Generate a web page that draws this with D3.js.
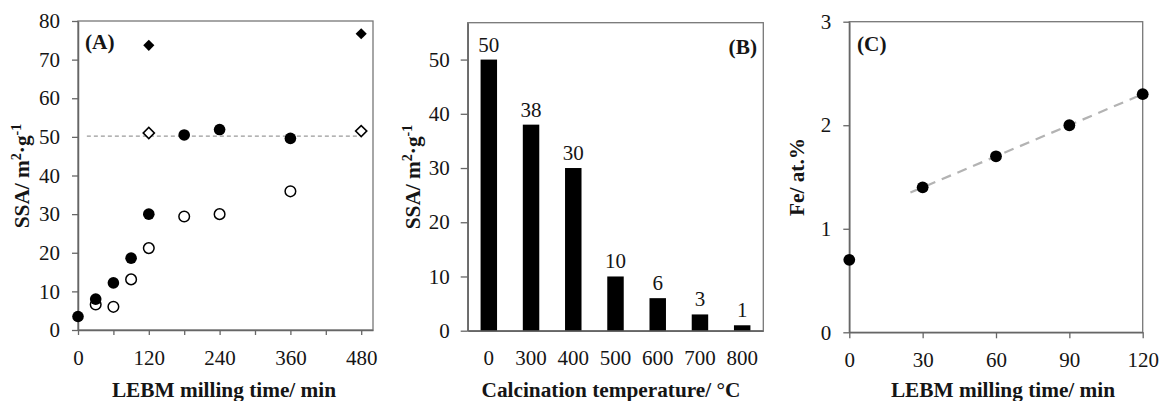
<!DOCTYPE html>
<html>
<head>
<meta charset="utf-8">
<script src="https://cdn.jsdelivr.net/npm/d3@7"></script>
<style>
  html, body { margin: 0; padding: 0; background: #fff; }
  svg { display: block; }
  text { font-family: "Liberation Serif", "Times New Roman", serif; fill: #151515; }
</style>
</head>
<body>
<svg id="chart" width="1161" height="401"></svg>
<script>
// ---------- (A) specific surface area vs. LEBM milling time ----------
const millTimeFilled = [0, 30, 60, 90, 120, 180, 240, 360];
const ssaFilled      = [3.5, 8.0, 12.2, 18.6, 30.0, 50.5, 51.9, 49.6];
const millTimeOpen   = [30, 60, 90, 120, 180, 240, 360];
const ssaOpen        = [6.6, 6.0, 13.1, 21.2, 29.4, 30.0, 35.9];
const diamondTime       = [120, 480];
const ssaDiamondFilled  = [73.7, 76.7];
const ssaDiamondOpen    = [51.0, 51.5];
const refLevelA = 50.2;          // dashed reference level
const refSpanA  = [15, 474];     // time span of the reference line
const xTicksA  = [0, 60, 120, 180, 240, 300, 360, 420, 480];
const xLabelsA = [0, 120, 240, 360, 480];
const yTicksA  = [0, 10, 20, 30, 40, 50, 60, 70, 80];

// ---------- (B) SSA vs. calcination temperature ----------
const calcTemps = ["0", "300", "400", "500", "600", "700", "800"];
const ssaCalc   = [50, 38, 30, 10, 6, 3, 1];
const yTicksB   = [0, 10, 20, 30, 40, 50];

// ---------- (C) Fe content vs. LEBM milling time ----------
const feTime    = [0, 30, 60, 90, 120];
const feContent = [0.7, 1.4, 1.7, 2.0, 2.3];
const trendSpan = [25, 120];     // linear trend over the milled samples
const xTicksC   = [0, 30, 60, 90, 120];
const yTicksC   = [0, 1, 2, 3];

const svg = d3.select("#chart");
svg.append("rect").attr("width", 1161).attr("height", 401).attr("fill", "#fff");

const AXIS = "#666";
const FRAME = "#777";
const TEXT = "#151515";
const TICK_FONT = 21;
const TITLE_FONT = 21.3;
const intFmt = d3.format("d");

function frame(x0, x1, y0, y1) {
  svg.append("rect")
    .attr("x", x0).attr("y", y1)
    .attr("width", x1 - x0).attr("height", y0 - y1)
    .attr("fill", "none").attr("stroke", FRAME).attr("stroke-width", 1.3);
}

function styleAxis(g) {
  g.select(".domain").attr("stroke", AXIS).attr("stroke-width", 1.5);
  g.selectAll(".tick line").attr("stroke", AXIS).attr("stroke-width", 1.3);
  g.selectAll(".tick text")
    .attr("font-family", '"Liberation Serif", "Times New Roman", serif')
    .attr("font-size", TICK_FONT).attr("fill", TEXT);
}

function yTitle(x, y, parts) {
  const t = svg.append("text")
    .attr("transform", `translate(${x},${y}) rotate(-90)`)
    .attr("text-anchor", "middle")
    .attr("font-weight", "bold")
    .attr("font-size", TITLE_FONT);
  parts.forEach(p => {
    const s = t.append("tspan").text(p.t);
    if (p.sup) s.attr("font-size", TITLE_FONT * 0.66).attr("baseline-shift", "super");
  });
}

function xTitle(x, y, txt) {
  svg.append("text").attr("x", x).attr("y", y)
    .attr("text-anchor", "middle").attr("font-weight", "bold")
    .attr("font-size", TITLE_FONT).text(txt);
}

function panelTag(x, y, txt, anchor) {
  svg.append("text").attr("x", x).attr("y", y)
    .attr("text-anchor", anchor || "start").attr("font-weight", "bold")
    .attr("font-size", TITLE_FONT).text(txt);
}

const ssaTitle = [{t: "SSA/ m"}, {t: "2", sup: true}, {t: "·g"}, {t: "-1", sup: true}];

// ================= Panel A =================
{
  const x = d3.scaleLinear().domain([0, 500]).range([78, 373]);
  const y = d3.scaleLinear().domain([0, 80]).range([330, 21]);
  frame(78, 373, 330, 21);

  svg.append("g").attr("transform", "translate(0,330)")
    .call(d3.axisBottom(x).tickValues(xTicksA)
      .tickFormat(d => xLabelsA.includes(d) ? intFmt(d) : "")
      .tickSize(5).tickPadding(15).tickSizeOuter(0))
    .call(styleAxis);
  svg.append("g").attr("transform", "translate(78,0)")
    .call(d3.axisLeft(y).tickValues(yTicksA).tickFormat(intFmt)
      .tickSize(6).tickPadding(12).tickSizeOuter(0))
    .call(styleAxis);

  svg.append("line")
    .attr("x1", x(refSpanA[0])).attr("x2", x(refSpanA[1]))
    .attr("y1", y(refLevelA)).attr("y2", y(refLevelA))
    .attr("stroke", "#9a9a9a").attr("stroke-width", 1.2).attr("stroke-dasharray", "4,3");

  const openPts = millTimeOpen.map((t, i) => [t, ssaOpen[i]]);
  const filledPts = millTimeFilled.map((t, i) => [t, ssaFilled[i]]);

  svg.append("g").selectAll("circle").data(openPts).join("circle")
    .attr("cx", d => x(d[0])).attr("cy", d => y(d[1])).attr("r", 5.3)
    .attr("fill", "#fff").attr("stroke", "#000").attr("stroke-width", 1.5);
  svg.append("g").selectAll("circle").data(filledPts).join("circle")
    .attr("cx", d => x(d[0])).attr("cy", d => y(d[1])).attr("r", 5.8)
    .attr("fill", "#000");

  const diamond = d3.symbol(d3.symbolSquare, 62);
  svg.append("g").selectAll("path").data(diamondTime.map((t, i) => [t, ssaDiamondOpen[i]])).join("path")
    .attr("d", diamond)
    .attr("transform", d => `translate(${x(d[0])},${y(d[1])}) rotate(45)`)
    .attr("fill", "#fff").attr("stroke", "#000").attr("stroke-width", 1.6);
  svg.append("g").selectAll("path").data(diamondTime.map((t, i) => [t, ssaDiamondFilled[i]])).join("path")
    .attr("d", diamond)
    .attr("transform", d => `translate(${x(d[0])},${y(d[1])}) rotate(45)`)
    .attr("fill", "#000");

  yTitle(29, 176, ssaTitle);
  xTitle(224, 397, "LEBM milling time/ min");
  panelTag(85, 49, "(A)");
}

// ================= Panel B =================
{
  const x = d3.scaleBand().domain(calcTemps).range([467.7, 763.3])
    .paddingInner(0.61).paddingOuter(0.305);
  const y = d3.scaleLinear().domain([0, 56.8]).range([330.7, 22.7]);
  frame(467.7, 763.3, 330.7, 22.7);

  svg.append("g").selectAll("rect").data(calcTemps).join("rect")
    .attr("x", d => x(d)).attr("width", x.bandwidth())
    .attr("y", (d, i) => y(ssaCalc[i]))
    .attr("height", (d, i) => y(0) - y(ssaCalc[i]))
    .attr("fill", "#000");

  svg.append("g").selectAll("text").data(calcTemps).join("text")
    .attr("x", d => x(d) + x.bandwidth() / 2)
    .attr("y", (d, i) => y(ssaCalc[i]) - 8)
    .attr("text-anchor", "middle").attr("font-size", TICK_FONT)
    .text((d, i) => intFmt(ssaCalc[i]));

  svg.append("g").attr("transform", "translate(0,330.7)")
    .call(d3.axisBottom(x).tickSize(0).tickPadding(19.5).tickSizeOuter(0))
    .call(styleAxis);
  svg.append("g").attr("transform", "translate(467.7,0)")
    .call(d3.axisLeft(y).tickValues(yTicksB).tickFormat(intFmt)
      .tickSize(7).tickPadding(11).tickSizeOuter(0))
    .call(styleAxis);

  yTitle(420, 177, ssaTitle);
  xTitle(611, 397, "Calcination temperature/ °C");
  panelTag(757, 54, "(B)", "end");
}

// ================= Panel C =================
{
  const x = d3.scaleLinear().domain([0, 120]).range([849.3, 1142.7]);
  const y = d3.scaleLinear().domain([0, 3]).range([332.3, 21.7]);
  frame(849.3, 1142.7, 332.3, 21.7);

  svg.append("g").attr("transform", "translate(0,332.3)")
    .call(d3.axisBottom(x).tickValues(xTicksC).tickFormat(intFmt)
      .tickSize(6).tickPadding(14).tickSizeOuter(0))
    .call(styleAxis);
  svg.append("g").attr("transform", "translate(849.3,0)")
    .call(d3.axisLeft(y).tickValues(yTicksC).tickFormat(intFmt)
      .tickSize(6).tickPadding(12).tickSizeOuter(0))
    .call(styleAxis);

  // least-squares trend through the milled samples (t > 0)
  const fit = feTime.map((t, i) => [t, feContent[i]]).filter(d => d[0] > 0);
  const mx = d3.mean(fit, d => d[0]), my = d3.mean(fit, d => d[1]);
  const slope = d3.sum(fit, d => (d[0] - mx) * (d[1] - my)) / d3.sum(fit, d => (d[0] - mx) ** 2);
  const icpt = my - slope * mx;
  svg.append("line")
    .attr("x1", x(trendSpan[0])).attr("y1", y(icpt + slope * trendSpan[0]))
    .attr("x2", x(trendSpan[1])).attr("y2", y(icpt + slope * trendSpan[1]))
    .attr("stroke", "#b3b3b3").attr("stroke-width", 2.2).attr("stroke-dasharray", "10,7");

  svg.append("g").selectAll("circle").data(feTime.map((t, i) => [t, feContent[i]])).join("circle")
    .attr("cx", d => x(d[0])).attr("cy", d => y(d[1])).attr("r", 5.9)
    .attr("fill", "#000");

  yTitle(804, 177, [{t: "Fe/ at.%"}]);
  xTitle(1003, 397, "LEBM milling time/ min");
  panelTag(857, 51, "(C)");
}
</script>
</body>
</html>
